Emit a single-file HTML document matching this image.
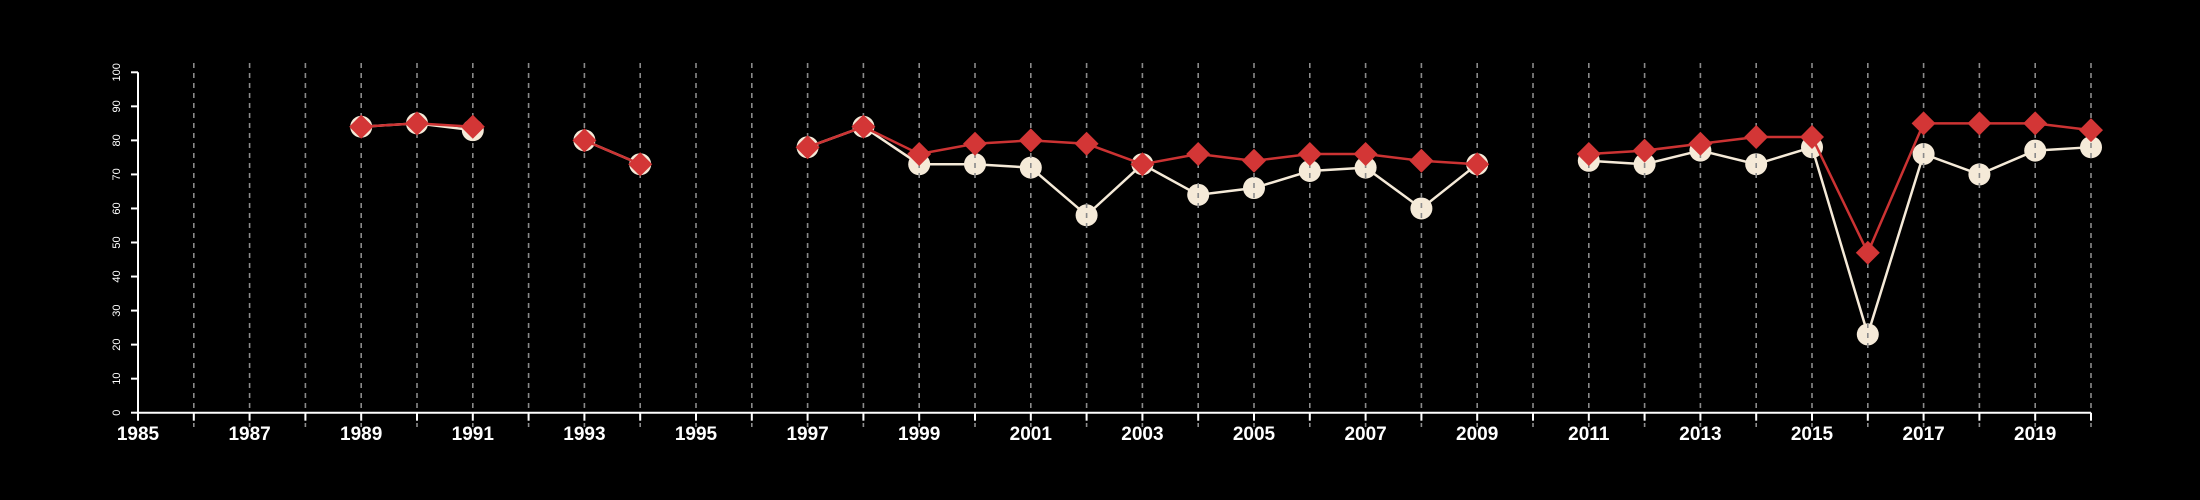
<!DOCTYPE html>
<html><head><meta charset="utf-8"><style>
html,body{margin:0;padding:0;background:#000;}
svg{display:block;}
text{font-family:"Liberation Sans",sans-serif;fill:#fff;}
</style></head><body>
<svg id="chart" width="2200" height="500" viewBox="0 0 2200 500">
<rect width="2200" height="500" fill="#000"/>
<g id="white-g"></g><g id="grid-g"></g><g id="red-g"></g><g id="axes-g"></g>
</svg>
<script>
const years = [1989,1990,1991,1992,1993,1994,1995,1996,1997,1998,1999,2000,2001,2002,2003,2004,2005,2006,2007,2008,2009,2010,2011,2012,2013,2014,2015,2016,2017,2018,2019,2020];
const seriesWhite = [84,85,83,null,80,73,null,null,78,84,73,73,72,58,73,64,66,71,72,60,73,null,74,73,77,73,78,23,76,70,77,78];
const seriesRed = [84,85,84,null,80,73,null,null,78,84,76,79,80,79,73,76,74,76,76,74,73,null,76,77,79,81,81,47,85,85,85,83];
const yTicks = [0,10,20,30,40,50,60,70,80,90,100];
const xLabels = [1985,1987,1989,1991,1993,1995,1997,1999,2001,2003,2005,2007,2009,2011,2013,2015,2017,2019];

const NS='http://www.w3.org/2000/svg';
const X0=138, X1=2091, Y0=412.7, Y1=72.3;
const xs = y => X0 + (y-1985)*(X1-X0)/35;
const ys = v => Y0 - v*(Y0-Y1)/100;
function mk(tag, attrs, parent){const e=document.createElementNS(NS,tag);for(const k in attrs)e.setAttribute(k,attrs[k]);parent.appendChild(e);return e;}

function segs(vals){const out=[];let cur=[];vals.forEach((v,i)=>{if(v==null){if(cur.length)out.push(cur);cur=[];}else cur.push([xs(years[i]),ys(v)]);});if(cur.length)out.push(cur);return out;}

// white series
const wg=document.getElementById('white-g');
segs(seriesWhite).forEach(s=>{
  const p=mk('polyline',{points:s.map(q=>q.join(',')).join(' '),fill:'none',stroke:'#f5ead8','stroke-width':2.5},wg);
  
  
});
seriesWhite.forEach((v,i)=>{if(v==null)return;
  const c=mk('circle',{cx:xs(years[i]),cy:ys(v),r:11,fill:'#f5ead8'},wg);
  
  
});

// grid
const gg=document.getElementById('grid-g');
for(let y=1986;y<=2020;y++){
  const l=mk('line',{x1:xs(y),x2:xs(y),y1:63,y2:427,stroke:'#8a8a8a','stroke-width':1.6,'stroke-dasharray':'5,5'},gg);
  
  
}

// red series
const rg=document.getElementById('red-g');
segs(seriesRed).forEach(s=>{
  const p=mk('polyline',{points:s.map(q=>q.join(',')).join(' '),fill:'none',stroke:'#cc3333','stroke-width':2.5},rg);
  
  
});
seriesRed.forEach((v,i)=>{if(v==null)return;
  const x=xs(years[i]),y=ys(v),d=12;
  const p=mk('polygon',{points:`${x},${y-d} ${x+d},${y} ${x},${y+d} ${x-d},${y}`,fill:'#d33636'},rg);
  
  
});

// axes
const ag=document.getElementById('axes-g');
const ya=mk('line',{x1:X0,x2:X0,y1:Y1,y2:Y0,stroke:'#fff','stroke-width':2},ag);


const xa=mk('line',{x1:X0,x2:X1,y1:Y0,y2:Y0,stroke:'#fff','stroke-width':2},ag);


yTicks.forEach(t=>{
  const y=ys(t);
  const l=mk('line',{x1:X0-7,x2:X0,y1:y,y2:y,stroke:'#fff','stroke-width':2},ag);
  
  
  const tx=mk('text',{x:0,y:0,transform:`translate(120,${y}) rotate(-90)`,'text-anchor':'middle','font-size':11},ag);
  tx.textContent=t;
  
  
});
for(let y=1985;y<=2020;y++){
  const l=mk('line',{x1:xs(y),x2:xs(y),y1:Y0,y2:Y0+8,stroke:'#fff','stroke-width':2},ag);
  
  
}
xLabels.forEach(y=>{
  const tx=mk('text',{x:xs(y),y:440,'text-anchor':'middle','font-size':19,'font-weight':'bold'},ag);
  tx.textContent=y;
  
  
});
</script>
</body></html>
